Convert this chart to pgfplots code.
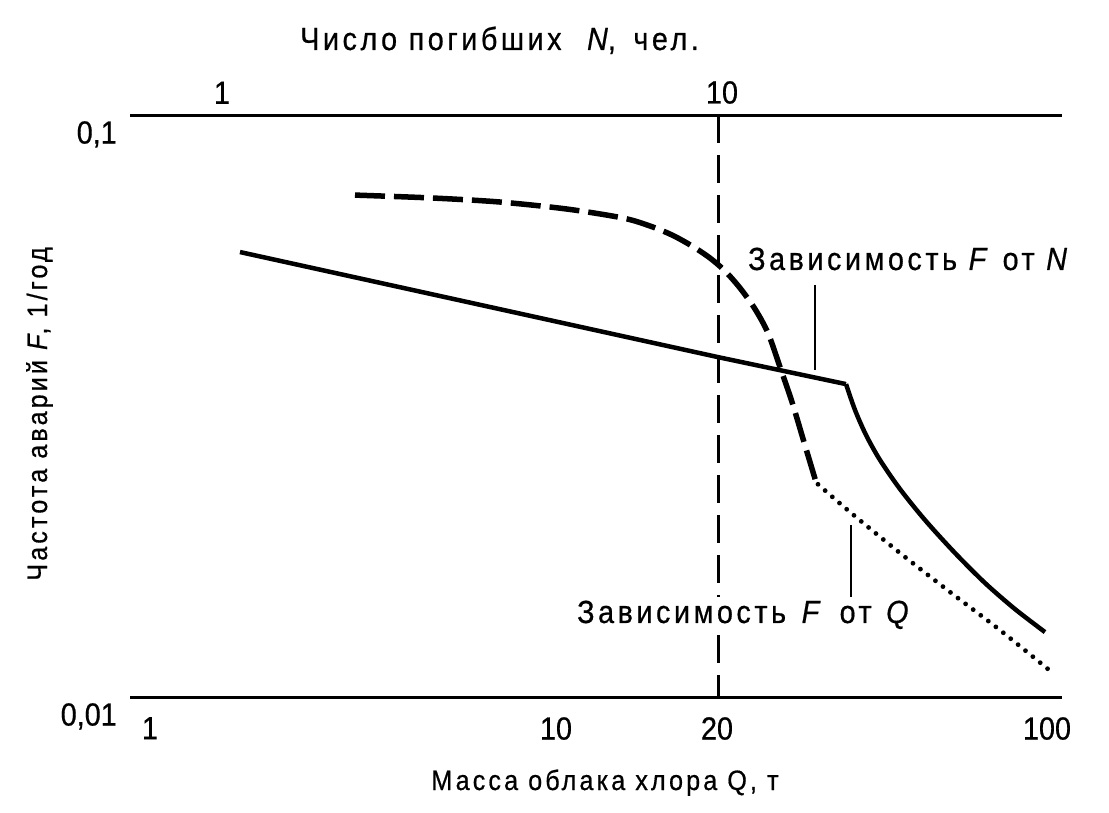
\documentclass[border=0pt]{standalone}
\usepackage{fontspec}
\setmainfont{Liberation Sans}[FakeStretch=0.9, FakeBold=0.6]
\newfontfamily\lsp{Liberation Sans}[LetterSpace=11, FakeStretch=0.9, FakeBold=0.6]
\usepackage{pgfplots}
\pgfplotsset{compat=1.18}
\newcommand\lab{\fontsize{32}{38}\selectfont\lsp}
\newcommand\labs{\fontsize{28}{34}\selectfont\lsp}
\newcommand\tfont{\fontsize{32}{38}\selectfont}
\begin{document}
\begin{tikzpicture}[x=1pt,y=1pt]
\path[use as bounding box] (0,0) rectangle (1109,812);
\begin{axis}[
  at={(130pt,115pt)}, anchor=south west,
  scale only axis, width=932pt, height=582pt,
  xmin=130, xmax=1062, ymin=0.01, ymax=0.1, ymode=log,
  separate axis lines,
  axis x line*=bottom, axis y line*=left,
  y axis line style={draw=none},
  x axis line style={line width=3pt},
  xtick pos=left, ytick pos=left,
  major tick length=0pt, minor tick length=0pt,
  xtick={150,556,717,1047}, xticklabels={1,10,20,100},
  ytick={0.01,0.1}, yticklabels={{0,01},{0,1}},
  xticklabel style={font=\tfont, anchor=north, inner sep=0pt, yshift=-20pt},
  yticklabel style={font=\tfont, anchor=north east, inner sep=0pt, xshift=-13pt, yshift=-6pt},
  clip=false,
]
% vertical reference line Q = 20 t / N = 10
\addplot[black, line width=3pt, dash pattern=on 28pt off 12pt] coordinates {(718,0.1) (718,0.01)};
% F vs N (solid): straight part and curved part
\addplot[black, line width=4.5pt, line join=round] coordinates {
(240,0.05815) (718,0.03838) (846,0.03449)};
\addplot[black, line width=4.5pt, line join=round, smooth, tension=0.5] coordinates {
(846,0.03449) (855,0.03113) (866,0.02820) (880,0.02554) (900,0.02277) (925,0.02014)
(955,0.01768) (985,0.01570) (1015,0.01416) (1045,0.01293)};
% F vs Q (dashed part)
\addplot[black, line width=5.5pt, smooth, tension=0.5, dash pattern=on 30pt off 9pt] coordinates {
(355,0.07286) (433,0.07201) (500,0.07088) (567,0.06894) (623,0.06653) (650,0.06446)
(672,0.06221) (692,0.05956) (710,0.05679) (725,0.05395) (740,0.05044) (755,0.04642)
(768,0.04221) (780,0.03690) (792,0.03213) (804,0.02742) (816,0.02341)};
% F vs Q (dotted part)
\addplot[black, line width=4.8pt, line cap=round, smooth, dash pattern=on 0pt off 9.5pt] coordinates {
(818,0.02320) (850,0.02079) (900,0.01768) (950,0.01515) (1000,0.01303) (1053,0.01099)};
\end{axis}
\begin{axis}[
  at={(130pt,115pt)}, anchor=south west,
  scale only axis, width=932pt, height=582pt,
  xmin=130, xmax=1062, ymin=0.01, ymax=0.1, ymode=log,
  separate axis lines,
  axis x line*=top, axis y line*=left,
  y axis line style={draw=none},
  x axis line style={line width=3pt},
  xtick pos=right, xticklabel pos=right, ytick=\empty,
  major tick length=0pt, minor tick length=0pt,
  xtick={222,722}, xticklabels={1,10},
  xticklabel style={font=\tfont, anchor=south, inner sep=0pt, yshift=11pt},
]
\end{axis}
% titles
\node[anchor=base west, inner sep=0pt] at (300,762) {\lab Число погибших\hspace{14pt} \textit{N},\hspace{6pt} чел.};
\node[anchor=base, inner sep=0pt] at (605,22) {\labs Масса облака хлора Q, т};
\node[anchor=base, inner sep=0pt, rotate=90] at (47,398) {\labs Частота аварий \textit{F}, 1/год};
% annotations
\draw[line width=2.5pt] (815,527) -- (815,442);
\draw[line width=2.5pt] (851,287) -- (851,212);
\node[anchor=base west, inner sep=0pt] at (748,542) {\lab Зависимость \textit{F} от \textit{N}};
\node[anchor=base west, fill=white, inner ysep=4pt, inner xsep=2pt] at (575,189) {\lab Зависимость\hspace{4pt} \textit{F}\hspace{4pt} от\hspace{3pt} \textit{Q}};
\end{tikzpicture}
\end{document}
